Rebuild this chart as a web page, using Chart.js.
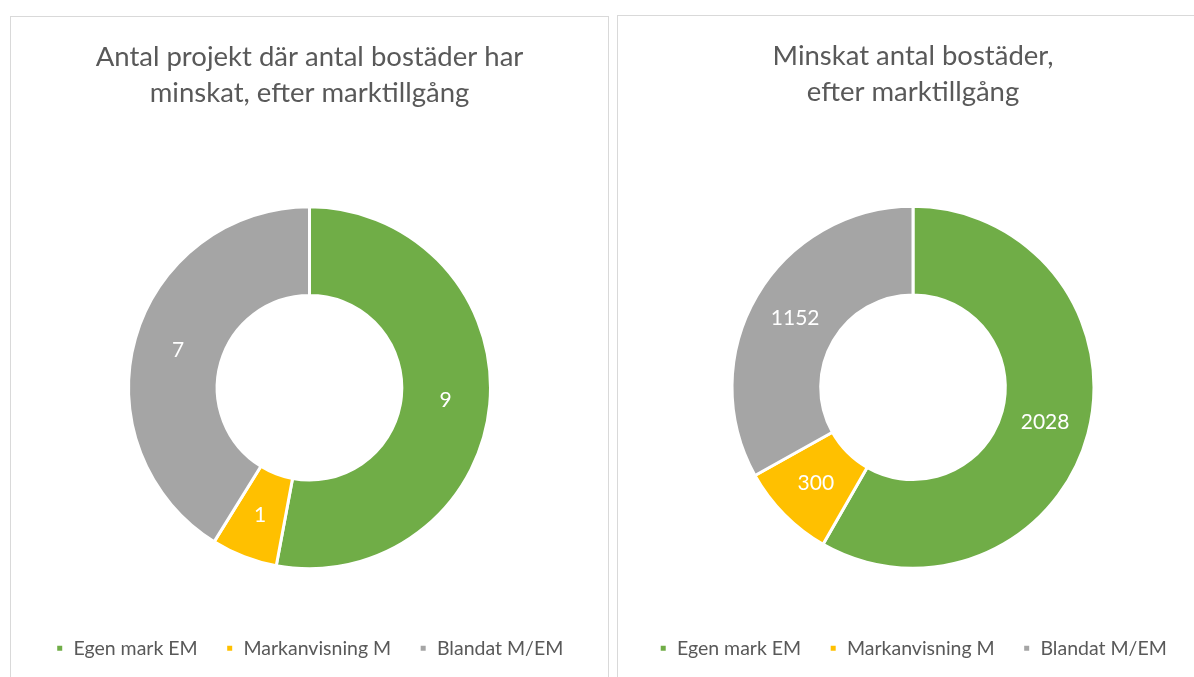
<!DOCTYPE html>
<html>
<head>
<meta charset="utf-8">
<script src="https://cdn.jsdelivr.net/npm/chart.js@4"></script>
<style>
  body { margin: 0; background: #fff; overflow: hidden; }
  .panel { position: absolute; border: 1px solid #d9d9d9; background: #fff; }
  #p1 { left: 10px; top: 16px; width: 597px; height: 700px; }
  #p2 { left: 617px; top: 15px; width: 590px; height: 700px; }
  canvas { display: block; }
</style>
</head>
<body>
<div class="panel" id="p1"><canvas id="c1" width="597" height="661"></canvas></div>
<div class="panel" id="p2"><canvas id="c2" width="590" height="662"></canvas></div>
<script>
const categories = ['Egen mark EM', 'Markanvisning M', 'Blandat M/EM'];
const projectCounts = [9, 1, 7];
const dwellingCounts = [2028, 300, 1152];
const colors = ['#70AD47', '#FFC000', '#A5A5A5'];
const titles = [
  ['Antal projekt där antal bostäder har', 'minskat, efter marktillgång'],
  ['Minskat antal bostäder,', 'efter marktillgång']
];

// white value labels in the middle of each ring slice
const sliceLabels = {
  id: 'sliceLabels',
  afterDatasetsDraw(chart) {
    const ctx = chart.ctx;
    const ds = chart.data.datasets[0];
    ctx.save();
    ctx.fillStyle = '#ffffff';
    ctx.font = '21px Lato';
    ctx.textAlign = 'center';
    ctx.textBaseline = 'middle';
    chart.getDatasetMeta(0).data.forEach((arc, i) => {
      const p = arc.tooltipPosition();
      ctx.fillText(ds.data[i], p.x, p.y);
    });
    ctx.restore();
  }
};

function makeChart(id, values, title) {
  new Chart(document.getElementById(id), {
    type: 'doughnut',
    data: {
      labels: categories,
      datasets: [{
        data: values,
        backgroundColor: colors,
        borderColor: '#ffffff',
        borderWidth: 3,
        radius: 181
      }]
    },
    options: {
      responsive: false,
      animation: false,
      cutout: '51%',
      layout: { padding: { top: 22, bottom: 10 } },
      plugins: {
        title: {
          display: true,
          text: title,
          color: '#595959',
          font: { family: 'Lato', size: 27.5, weight: 'normal', lineHeight: 1.31 },
          padding: { top: 0, bottom: 54 }
        },
        legend: {
          position: 'bottom',
          labels: {
            color: '#595959',
            font: { family: 'Lato', size: 19.5 },
            boxWidth: 8,
            boxHeight: 8,
            padding: 28
          }
        },
        tooltip: { enabled: false }
      }
    },
    plugins: [sliceLabels]
  });
}

makeChart('c1', projectCounts, titles[0]);
makeChart('c2', dwellingCounts, titles[1]);
</script>
</body>
</html>
